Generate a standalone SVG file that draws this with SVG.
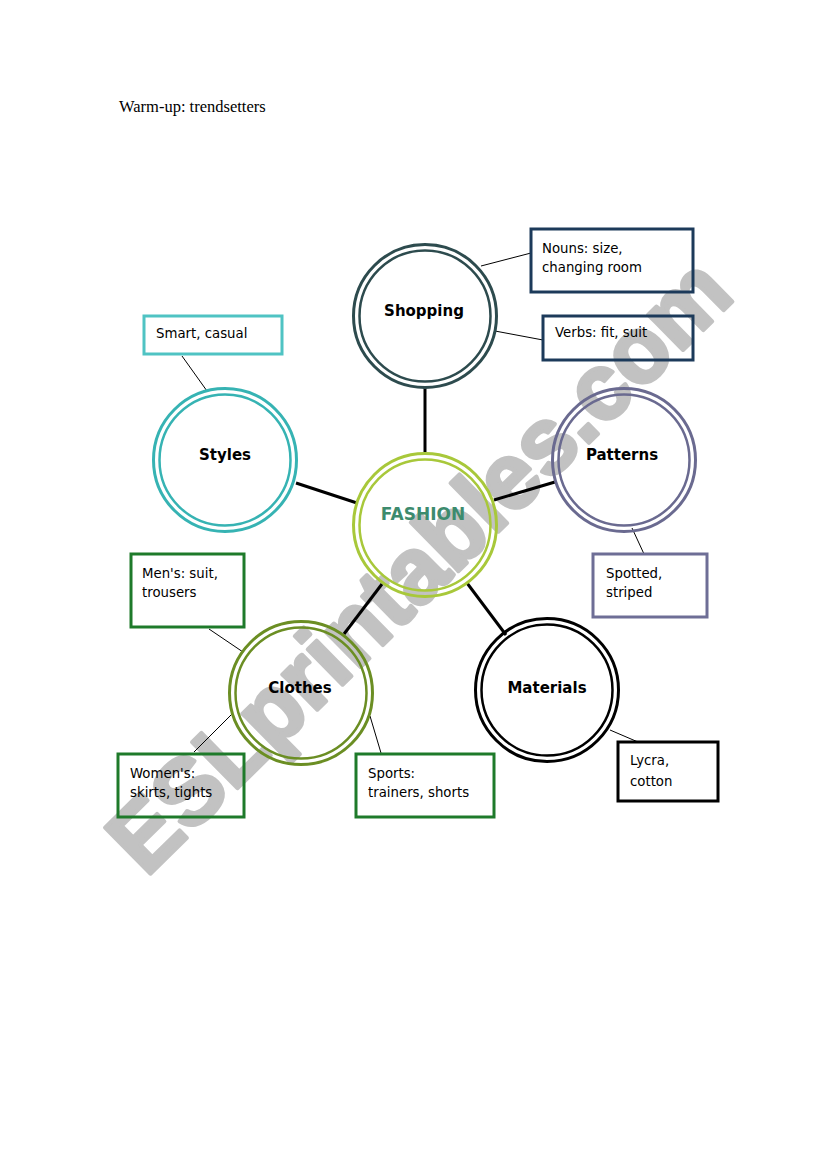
<svg xmlns="http://www.w3.org/2000/svg" width="821" height="1169" viewBox="0 0 821 1169">
<style>
.bg{fill:#ffffff}
.wm{font-family:"Liberation Sans","DejaVu Sans",sans-serif;font-weight:bold;font-size:94px;fill:#c2c2c2;stroke:#c2c2c2;stroke-width:4;stroke-linejoin:round}
.title{font-family:"Liberation Serif","Times New Roman",serif;font-size:16.5px;fill:#000}
.lbl{font-family:"Comic Sans MS","DejaVu Sans",sans-serif;font-weight:bold;font-size:15px;fill:#000;text-anchor:middle}
.txt{font-family:"Comic Sans MS","DejaVu Sans",sans-serif;font-size:13.3px;fill:#000}
.ro{fill:none;stroke-width:3}
.ri{fill:none;stroke-width:2.5}
.box{fill:none;stroke-width:3}
.main{stroke:#000;stroke-width:3;fill:none}
.thin{stroke:#000;stroke-width:1;fill:none}
</style>
<rect class="bg" x="0" y="0" width="821" height="1169"/>
<text class="wm" transform="translate(146,878) rotate(-44.5)" textLength="828" lengthAdjust="spacingAndGlyphs">ESLprintables.com</text>
<text class="title" x="119" y="112">Warm-up: trendsetters</text>

<g id="connectors">
<line class="main" x1="425" y1="388" x2="425" y2="452"/>
<line class="main" x1="296" y1="483" x2="357" y2="503"/>
<line class="main" x1="494" y1="500" x2="555" y2="482"/>
<line class="main" x1="382" y1="584" x2="344" y2="634"/>
<line class="main" x1="467" y1="583" x2="506" y2="635"/>
<line class="thin" x1="481" y1="266" x2="531" y2="253"/>
<line class="thin" x1="495" y1="331" x2="543" y2="340"/>
<line class="thin" x1="182" y1="356" x2="207" y2="391"/>
<line class="thin" x1="209" y1="629" x2="243" y2="652"/>
<line class="thin" x1="194" y1="752" x2="232" y2="714"/>
<line class="thin" x1="370" y1="716" x2="381" y2="753"/>
<line class="thin" x1="632" y1="528" x2="644" y2="554"/>
<line class="thin" x1="610" y1="730" x2="638" y2="742"/>
</g>

<g id="fashion">
<circle class="ro" cx="425" cy="525" r="71.5" stroke="#a8c83a"/>
<circle class="ri" cx="425" cy="525" r="65.5" stroke="#a8c83a"/>
<text x="423" y="520" text-anchor="middle" font-family="'Comic Sans MS','DejaVu Sans',sans-serif" font-weight="bold" font-size="17" fill="#3d8b6e">FASHION</text>
</g>
<g id="shopping">
<circle class="ro" cx="425" cy="316" r="71.5" stroke="#2d4b4e"/>
<circle class="ri" cx="425" cy="316" r="65.5" stroke="#2d4b4e"/>
<text class="lbl" x="424" y="316">Shopping</text>
</g>
<g id="styles">
<circle class="ro" cx="225" cy="460" r="71.5" stroke="#36b3b3"/>
<circle class="ri" cx="225" cy="460" r="65.5" stroke="#36b3b3"/>
<text class="lbl" x="225" y="460">Styles</text>
</g>
<g id="patterns">
<circle class="ro" cx="624" cy="460" r="71.5" stroke="#6a6a90"/>
<circle class="ri" cx="624" cy="460" r="65.5" stroke="#6a6a90"/>
<text class="lbl" x="622" y="460">Patterns</text>
</g>
<g id="clothes">
<circle class="ro" cx="301" cy="693" r="71.5" stroke="#6b8e23"/>
<circle class="ri" cx="301" cy="693" r="65.5" stroke="#6b8e23"/>
<text class="lbl" x="300" y="693">Clothes</text>
</g>
<g id="materials">
<circle class="ro" cx="547" cy="690" r="71.5" stroke="#000"/>
<circle class="ri" cx="547" cy="690" r="65.5" stroke="#000"/>
<text class="lbl" x="547" y="693">Materials</text>
</g>

<g id="nouns">
<rect class="box" x="531" y="229" width="162" height="63" stroke="#1c3a5a"/>
<text class="txt" x="542" y="253">Nouns: size,</text>
<text class="txt" x="542" y="272">changing room</text>
</g>
<g id="verbs">
<rect class="box" x="543" y="316" width="150" height="44" stroke="#1c3a5a"/>
<text class="txt" x="555" y="337">Verbs: fit, suit</text>
</g>
<g id="smart">
<rect class="box" x="144" y="316" width="138" height="38" stroke="#4fc3c3"/>
<text class="txt" x="156" y="338">Smart, casual</text>
</g>
<g id="mens">
<rect class="box" x="131" y="554" width="113" height="73" stroke="#1e7a2a"/>
<text class="txt" x="142" y="578">Men's: suit,</text>
<text class="txt" x="142" y="597">trousers</text>
</g>
<g id="womens">
<rect class="box" x="118" y="754" width="126" height="63" stroke="#1e7a2a"/>
<text class="txt" x="130" y="778">Women's:</text>
<text class="txt" x="130" y="797">skirts, tights</text>
</g>
<g id="sports">
<rect class="box" x="356" y="754" width="138" height="63" stroke="#1e7a2a"/>
<text class="txt" x="368" y="778">Sports:</text>
<text class="txt" x="368" y="797">trainers, shorts</text>
</g>
<g id="spotted">
<rect class="box" x="593" y="554" width="114" height="63" stroke="#6e6e96"/>
<text class="txt" x="606" y="578">Spotted,</text>
<text class="txt" x="606" y="597">striped</text>
</g>
<g id="lycra">
<rect class="box" x="618" y="742" width="100" height="59" stroke="#000"/>
<text class="txt" x="630" y="765">Lycra,</text>
<text class="txt" x="630" y="786">cotton</text>
</g>
</svg>
